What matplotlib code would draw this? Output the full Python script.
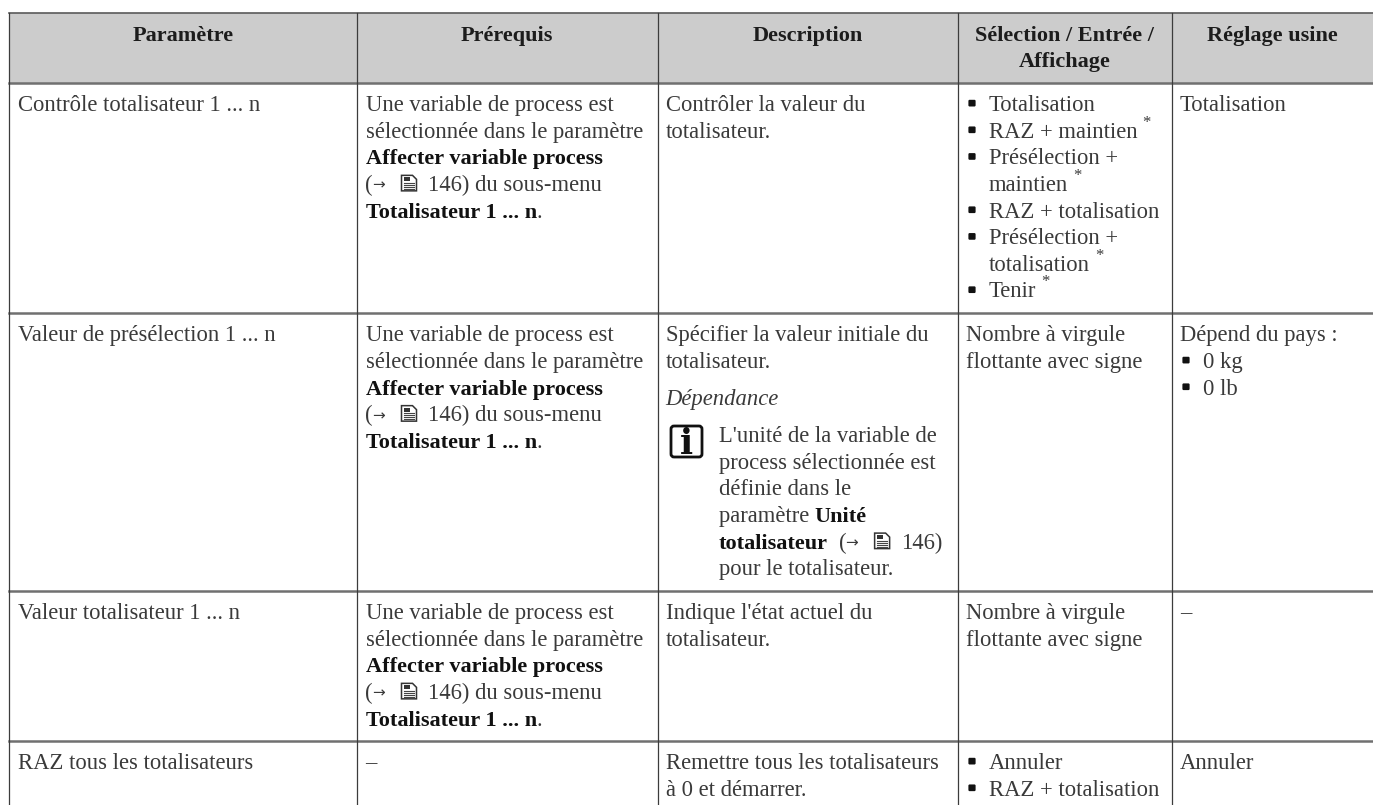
import re
import matplotlib
matplotlib.use('Agg')
import matplotlib.pyplot as plt
from matplotlib.patches import FancyBboxPatch, Rectangle, Polygon

headers = ["Paramètre", "Prérequis", "Description", ["Sélection / Entrée /", "Affichage"], "Réglage usine"]

prereq = ["Une variable de process est", "sélectionnée dans le paramètre", "**Affecter variable process**",
          "[ref]146) du sous-menu", "**Totalisateur 1 ... n**."]

col_param = ["Contrôle totalisateur 1 ... n", "Valeur de présélection 1 ... n", "Valeur totalisateur 1 ... n",
             "RAZ tous les totalisateurs"]
col_prereq = [prereq, prereq, prereq, ["–"]]
col_desc = [
    ["Contrôler la valeur du", "totalisateur."],
    ["Spécifier la valeur initiale du", "totalisateur."],
    ["Indique l'état actuel du", "totalisateur."],
    ["Remettre tous les totalisateurs", "à 0 et démarrer."],
]
col_select = [
    ["- Totalisation", "- RAZ + maintien^", "- Présélection +", "  maintien^", "- RAZ + totalisation",
     "- Présélection +", "  totalisation^", "- Tenir^"],
    ["Nombre à virgule", "flottante avec signe"],
    ["Nombre à virgule", "flottante avec signe"],
    ["- Annuler", "- RAZ + totalisation"],
]
col_default = [
    ["Totalisation"],
    ["Dépend du pays :", "- 0 kg", "- 0 lb"],
    ["–"],
    ["Annuler"],
]

# extra block of the second description cell: baseline, text
dep_label = "_Dépendance_"
note_lines = ["L'unité de la variable de", "process sélectionnée est", "définie dans le", "paramètre **Unité**",
              "**totalisateur** [ref]146)", "pour le totalisateur."]

# layout, in pixels of the reference
W, H = 1373, 805
col_x = [9, 357, 657.5, 957.5, 1171.5]
row_y = [82.7, 313, 590.7, 740.7]
header_top = 13
pad = 9
pitch = 26.65
FS = 16.3
FS_BOLD = 16.0
BODY = '#3a3a3a'
DARK = '#1c1c1c'

plt.rcParams['font.family'] = ['Liberation Serif', 'DejaVu Sans']

fig = plt.figure(figsize=(W / 100, H / 100), dpi=100)
ax = fig.add_axes([0, 0, 1, 1])
ax.set_xlim(0, W)
ax.set_ylim(H, 0)
ax.axis('off')
renderer = fig.canvas.get_renderer()


def put(x, y, s, **kw):
    t = ax.text(x, y, s, va='baseline', ha='left', fontsize=kw.pop('fontsize', FS), **kw)
    return x + t.get_window_extent(renderer).width


def page_icon(x, y):
    # small manual page symbol, 15 wide, 16 high
    top = y - 15.5
    ax.add_patch(Polygon([(x, top), (x + 11, top), (x + 15, top + 4), (x + 15, y), (x, y)],
                         closed=True, fc='white', ec='#333333', lw=1.1))
    ax.add_patch(Rectangle((x + 2, top + 2), 6, 4, fc='#333333', ec='none'))
    for k in range(4):
        ly = top + 7.5 + k * 2
        ax.plot([x + 2.5, x + 12.5], [ly, ly], color='#444444', lw=0.8)


def draw_line(x, y, line, color=BODY):
    if line.startswith("- ") or line.startswith("  "):
        if line.startswith("- "):
            ax.add_patch(FancyBboxPatch((x + 3, y - 10.5), 6, 5.5, boxstyle='round,pad=0.6,rounding_size=1.2',
                                        fc='#111111', ec='none'))
        x += 23
        line = line[2:]
    for tok in re.split(r'(\*\*.+?\*\*|_.+?_|\[ref\]|\^)', line):
        if not tok:
            continue
        if tok.startswith('**'):
            x = put(x, y, tok[2:-2], color='#111111', fontweight='bold', fontsize=FS_BOLD)
        elif tok.startswith('_'):
            x = put(x, y, tok[1:-1], color=BODY, fontstyle='italic')
        elif tok == '[ref]':
            if line.startswith('**'):
                x += 5
            put(x, y, "(", color=BODY)
            ax.text(x + 7, y - 1, "→", va='baseline', ha='left', fontsize=11, color=BODY, family='DejaVu Sans')
            page_icon(x + 36, y)
            x += 62
        elif tok == '^':
            ax.text(x + 5, y - 11, "*", va='baseline', ha='left', fontsize=12, color=BODY)
        else:
            x = put(x, y, tok, color=color)


def baseline(row, i):
    return row_y[row] + 28.2 + i * pitch


# header band and rules
ax.add_patch(Rectangle((col_x[0], header_top), W - col_x[0], row_y[0] - header_top, fc='#cccccc', ec='none'))
ax.plot([col_x[0], W], [header_top, header_top], color='#5a5a5a', lw=1.2)
for y in row_y:
    ax.plot([col_x[0], W], [y, y], color='#707070', lw=1.8)
for x in col_x:
    ax.plot([x, x], [header_top, H], color='#3c3c3c', lw=0.9)

# header text
col_right = col_x[1:] + [W]
for j, head in enumerate(headers):
    cx = (col_x[j] + col_right[j]) / 2
    lines = head if isinstance(head, list) else [head]
    for i, s in enumerate(lines):
        ax.text(cx, 41 + i * 26, s, ha='center', va='baseline', fontsize=FS_BOLD, fontweight='bold', color=DARK)

# table body
for r in range(4):
    draw_line(col_x[0] + pad, baseline(r, 0), col_param[r])
    for j, cells in [(1, col_prereq), (2, col_desc), (3, col_select), (4, col_default)]:
        for i, s in enumerate(cells[r]):
            draw_line(col_x[j] + pad - 0.5, baseline(r, i), s)

# note block of the second row
draw_line(col_x[2] + pad - 1, 405, dep_label)
ax.add_patch(FancyBboxPatch((672.5, 427.5), 28, 28, boxstyle='round,pad=1.5,rounding_size=3',
                            fc='white', ec='#111111', lw=2))
ax.text(686.5, 453.5, "i", ha='center', va='baseline', fontsize=25, fontweight='bold', color='#111111',
        family='DejaVu Serif')
for i, s in enumerate(note_lines):
    draw_line(719, 442 + i * pitch, s)

fig.savefig('out.png', dpi=100)
